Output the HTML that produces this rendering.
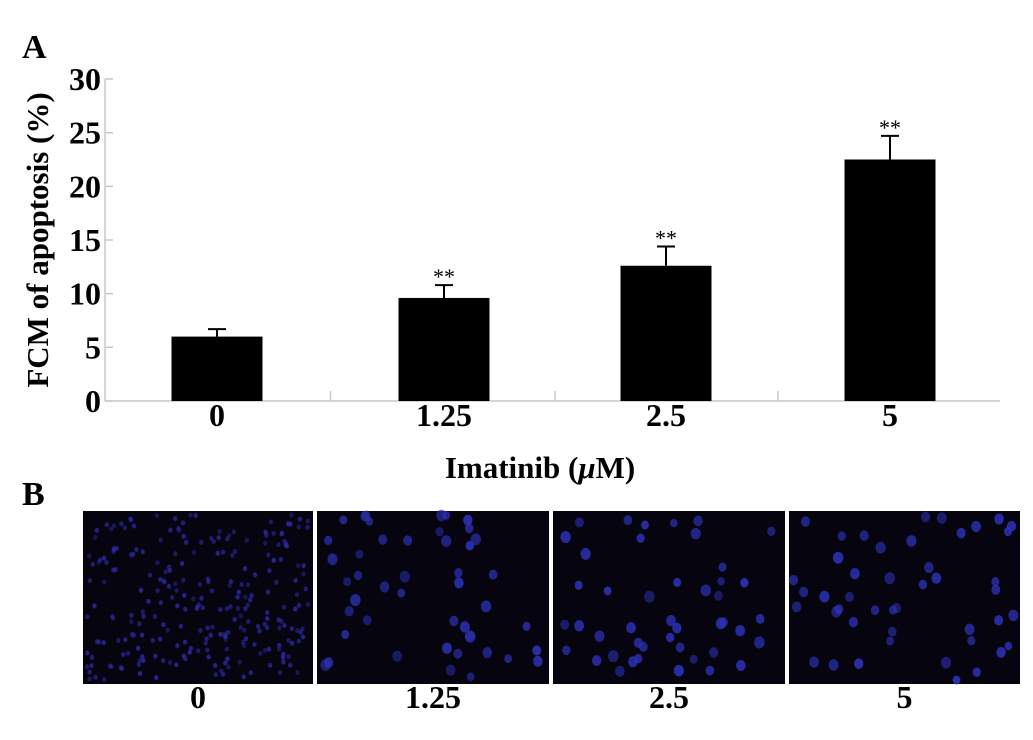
<!DOCTYPE html>
<html><head><meta charset="utf-8"><style>
html,body{margin:0;padding:0;background:#fff;width:1033px;height:740px;overflow:hidden}
svg{display:block;font-family:"Liberation Serif",serif;font-weight:bold}
</style></head><body>
<svg id="fig" width="1033" height="740" viewBox="0 0 1033 740">
<text x="22" y="58" font-size="34">A</text>
<text x="22" y="505" font-size="34">B</text>
<g id="chart"></g>
<text transform="translate(48,240) rotate(-90)" text-anchor="middle" font-size="31">FCM of apoptosis (%)</text>
<text x="540" y="478" text-anchor="middle" font-size="31">Imatinib (<tspan font-style="italic">μ</tspan>M)</text>
<g id="images"></g>
</svg>
<script>
const categories = ["0","1.25","2.5","5"];
const values = [6.0, 9.6, 12.6, 22.5];
const errors = [0.7, 1.2, 1.8, 2.2];
const stars = ["", "**", "**", "**"];
const yTicks = [0,5,10,15,20,25,30];

const NS="http://www.w3.org/2000/svg";
const chart=document.getElementById('chart');
function mk(tag,attrs,parent){const e=document.createElementNS(NS,tag);for(const k in attrs)e.setAttribute(k,attrs[k]);parent.appendChild(e);return e;}
const y0=401,y30=79,axX=105,axEnd=1000;
const y=v=>y0-(v/30)*(y0-y30);
const centers=[217,444,666,890];
const x=i=>centers[i];
const barW=91;
let a=mk('line',{x1:axX,y1:y30,x2:axX,y2:y0,stroke:'#c8c8c8','stroke-width':1.5},chart);

a=mk('line',{x1:axX,y1:y0,x2:axEnd,y2:y0,stroke:'#c8c8c8','stroke-width':1.5},chart);

yTicks.forEach(t=>{
  let l=mk('line',{x1:axX,y1:y(t),x2:axX+8,y2:y(t),stroke:'#c8c8c8','stroke-width':1.5},chart);
  
  let tx=mk('text',{x:axX-4,y:y(t)+11,'text-anchor':'end','font-size':32},chart);
  tx.textContent=t;
  
});
for(let i=0;i<categories.length-1;i++){
  const xm=(x(i)+x(i+1))/2;
  let l=mk('line',{x1:xm,y1:y0,x2:xm,y2:y0-10,stroke:'#c8c8c8','stroke-width':1.5},chart);
  
}
categories.forEach((c,i)=>{
  const cx=x(i);
  let e=mk('line',{x1:cx,y1:y(values[i]),x2:cx,y2:y(values[i]+errors[i]),stroke:'#000','stroke-width':2},chart);
  
  e=mk('line',{x1:cx-9,y1:y(values[i]+errors[i]),x2:cx+9,y2:y(values[i]+errors[i]),stroke:'#000','stroke-width':2},chart);
  
  let b=mk('rect',{x:cx-barW/2,y:y(values[i]),width:barW,height:y0-y(values[i]),fill:'#000'},chart);
  
  if(stars[i]){let s=mk('text',{x:cx,y:y(values[i]+errors[i])-1,'text-anchor':'middle','font-size':22,'font-weight':'normal'},chart);
    s.textContent=stars[i];}
  let t=mk('text',{x:cx,y:426,'text-anchor':'middle','font-size':32},chart);
  t.textContent=c;
});
// microscopy panels
const imgs=document.getElementById('images');
const panels=[[83,230],[317,232],[553,232],[789,231]];
const counts=[260,45,45,45];
let seed=7;const rnd=()=>{seed=(seed*16807)%2147483647;return seed/2147483647;};
panels.forEach((p,i)=>{
  const g=mk('g',{},imgs);
  
  mk('rect',{x:p[0],y:511,width:p[1],height:173,fill:'#05040f'},g);
  for(let k=0;k<counts[i];k++){
    const r=i==0?2.2:3.8+rnd()*1.5;
    mk('ellipse',{cx:p[0]+4+rnd()*(p[1]-8),cy:515+rnd()*165,rx:r,ry:r*1.15,fill:i==0?'#2a289a':'#2e32b8',opacity:0.5+rnd()*0.4},g);
  }
  let t=mk('text',{x:p[0]+p[1]/2,y:708,'text-anchor':'middle','font-size':32},imgs);
  t.textContent=categories[i];
});
</script>
</body></html>
